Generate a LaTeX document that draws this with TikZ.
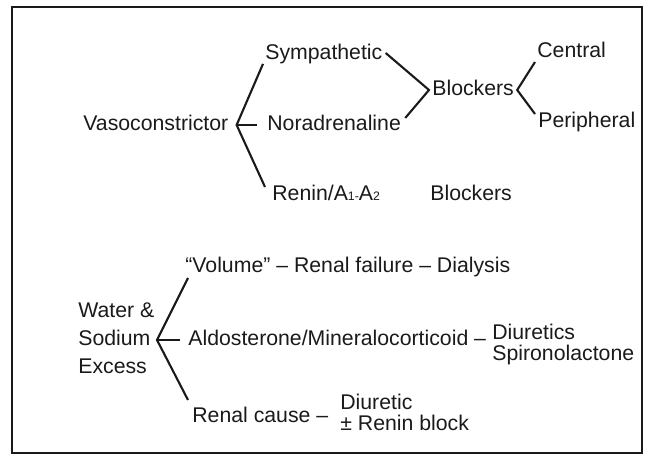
\documentclass[tikz,border=0pt]{standalone}
\usepackage{fontspec}
\setmainfont{Liberation Sans}
\usepackage{tikz}
\usetikzlibrary{positioning,calc}
\definecolor{ink}{HTML}{1A1A1A}
\newcommand{\diagfont}{\fontsize{12.1}{14.5}\selectfont}
\newcommand{\sub}[1]{{\fontsize{7}{8}\selectfont #1}}
\tikzset{
  lbl/.style={font=\diagfont,text=ink,inner sep=0pt,anchor=west,
    text height=9pt,text depth=3pt},
  stack/.style={font=\diagfont,text=ink,inner sep=0pt,anchor=north west,align=left},
  tight/.style={stack,font=\fontsize{12.1}{11.9}\selectfont},
  wide/.style={stack,font=\fontsize{12.1}{16.2}\selectfont},
  brace/.style={line width=1.2pt,draw=ink,line join=miter},
  frame/.style={line width=1.2pt,draw=ink}
}
\begin{document}
\begin{tikzpicture}[x=0.02cm,y=-0.02cm]
  \useasboundingbox (0,0) rectangle (650,456);
  \draw[frame] (12,7) rectangle (642,453);
  \node[lbl] (vaso) at (83,125) {Vasoconstrictor};
  \node[lbl] (symp) at (265,54) {Sympathetic};
  \node[lbl] (nora) at (267,125) {Noradrenaline};
  \node[lbl] (renin) at (272,195) {Renin/A\sub{1}\sub{-}A\sub{2}};
  \node[lbl] (blkA) at (432,90) {Blockers};
  \node[lbl] (cent) at (537,52) {Central};
  \node[lbl] (peri) at (538,122) {Peripheral};
  \node[lbl] (blkB) at (430,195) {Blockers};
  \coordinate (vv) at ([xshift=0.16cm]vaso.east);
  \coordinate (vb) at ([xshift=0.06cm]blkA.east);
  \draw[brace] ([shift={(-2,-1)}]symp.south west) -- (vv) -- ([shift={(-7,-8)}]renin.west);
  \draw[brace] (vv) -- ([shift={(-10,0)}]nora.west);
  \draw[brace] ([shift={(3,-1)}]symp.east) -- ([shift={(-3,0)}]blkA.west)
    -- ([shift={(4,-7)}]nora.east);
  \draw[brace] ([shift={(-2,10)}]cent.west) -- (vb) -- ([shift={(-3,-8)}]peri.west);
  \node[wide] (wse) at (78,302) {Water \&\\Sodium\\Excess};
  \node[lbl] (vol) at (185,267) {``Volume'' -- Renal failure -- Dialysis};
  \node[lbl] (ald) at (188,340) {Aldosterone/Mineralocorticoid --};
  \node[tight] (diurs) at (492,324) {Diuretics\\Spironolactone};
  \node[lbl] (renal) at (192,417) {Renal cause --};
  \node[tight] (diur) at (340,394) {Diuretic\\± Renin block};
  \coordinate (vw) at ([xshift=-0.62cm]ald.west);
  \draw[brace] ([shift={(3,0)}]vol.south west) -- (vw) -- ([shift={(-4,-17)}]renal.west);
  \draw[brace] (vw) -- ([shift={(-8,0)}]ald.west);
\end{tikzpicture}
\end{document}
